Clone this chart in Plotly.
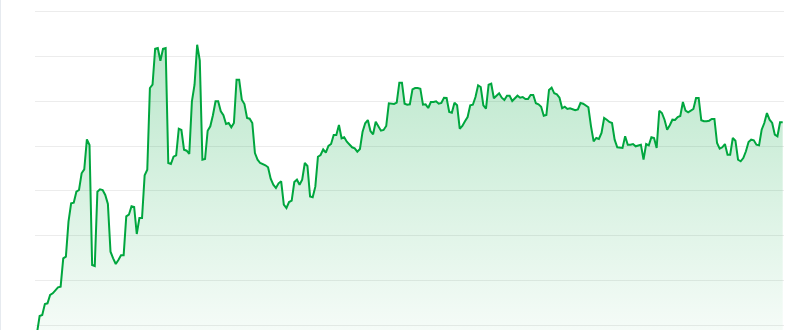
import plotly.graph_objects as go

seg_a = [-3, 14, 15, 26, 26.7, 35, 36.7, 40, 42.7, 43.3, 71.7, 73.3, 108.3, 126.7, 127.3,
         138.3, 140, 156.7, 160.7, 190.7, 185, 65, 64, 138.3, 140.7, 140, 135, 126, 78.3,
         71.7, 66, 70, 74.7, 74.7]
seg_b = [113.7, 115.3, 123.7, 123, 96, 112, 112, 154.7, 160.3, 242, 245.3, 281.3, 282, 269.3,
         281.3, 282, 167, 166, 173.3, 174.7, 201.3, 200, 180.3, 179.3, 176, 228.7, 245.3, 285.3,
         269.3, 170.3, 171, 199.3, 203.7, 214.7, 228.7, 228.7, 218.7, 214.7, 206, 207, 202.7,
         207, 250.3, 250.3, 230.3, 226, 212, 211.3, 207, 177, 170.3, 167, 166, 164.7, 162.7,
         151.3, 145.3, 142, 146.7, 148.7, 125.3, 122, 128, 129.3, 148, 150.3, 145.3, 150.3,
         167, 164, 133.5, 132.7, 143.3, 173.3, 175, 180.7, 177.3, 184, 186, 195, 195, 205,
         191.7, 192.7, 188.3, 185, 182.7, 181.7, 178.3, 181, 198.3, 206.7, 210, 199, 195.7,
         208.3, 204, 199.3, 200, 204, 226.7, 226, 226, 227.3, 247.3, 247.3]
seg_c = [226.3, 225.3, 225.7, 240.7, 242, 242, 241.3, 225.3, 225.7, 222, 228, 228, 228.7,
         226.3, 227, 232.3, 232, 218, 217.3, 227.3, 224.7, 201.3, 204, 208.7, 213, 224.7,
         225.3, 233, 244.7, 243, 224.7, 221.3, 245.3, 246.3, 231.7, 234.3, 236.7, 232.3, 230,
         234.3, 234.3, 229, 231.7, 234.3, 232.3, 233, 231, 231, 235, 235, 226.7, 225.7, 223.3,
         214.3, 215, 240, 242.3, 236.7, 235.7, 232.3, 221.7, 223.3, 221, 221.7, 220.7, 219.7,
         220.5]
seg_d = [227, 226.3, 224.7, 222.7, 203.7, 188.7, 192, 191, 197, 212, 210.3, 208, 207, 190.3,
         182.7, 182, 182, 193.7, 185.3, 185.3, 186, 183.7, 184.7, 185.3, 170.3, 186, 184.7,
         192.7, 192, 182, 219.3, 217, 210.3, 200.3, 204.7, 210.3, 210, 213, 214, 228, 219.3,
         217.7, 219.3, 221, 232, 232, 209.7, 208.7, 208.7, 209.3, 211, 211, 187, 181.3, 182.7,
         186, 175.3, 175.3, 192, 189.3, 170.3, 168.7, 172, 178.7, 188, 190.3, 189.7, 185.3,
         184.7, 200.3, 207, 217, 210.3, 207, 195.3, 193.7, 207.7, 207.7]

values = seg_a + seg_b + seg_c + seg_d
index = list(range(len(values)))

line_color = "#00a63e"

fig = go.Figure()
fig.add_trace(go.Scatter(
    x=index, y=values, mode="lines",
    line=dict(color=line_color, width=2),
    fill="tozeroy",
    fillgradient=dict(
        type="vertical",
        start=0, stop=max(values),
        colorscale=[[0, "rgba(0,166,62,0.04)"], [1, "rgba(0,166,62,0.27)"]],
    ),
    hoverinfo="skip",
))

n = len(values)
fig.update_layout(
    width=785, height=330,
    margin=dict(l=35, r=1, t=0, b=0),
    paper_bgcolor="white", plot_bgcolor="white",
    showlegend=False,
    xaxis=dict(range=[-0.76, n - 0.5], showgrid=False, zeroline=False,
               showticklabels=False, showline=False, ticks=""),
    yaxis=dict(range=[0, 330], tick0=4.5, dtick=44.86, showgrid=True,
               gridcolor="#ececec", gridwidth=1, zeroline=False,
               showticklabels=False, showline=False, ticks=""),
    shapes=[dict(type="line", xref="paper", yref="paper",
                 x0=(0.5 - 35) / 749, x1=(0.5 - 35) / 749, y0=0, y1=1,
                 line=dict(color="#e6eaef", width=1))],
)

fig.write_html("out.html")
